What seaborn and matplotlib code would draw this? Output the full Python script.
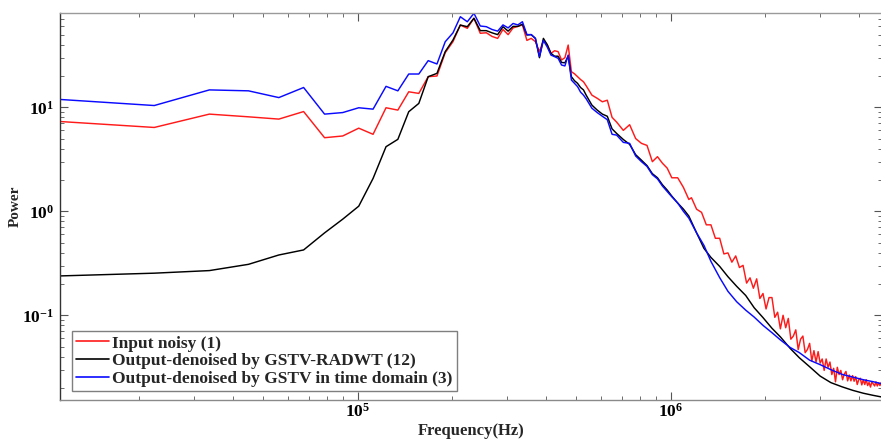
import numpy as np
import pandas as pd
import matplotlib
matplotlib.use("Agg")
import matplotlib.pyplot as plt
import seaborn as sns
from matplotlib.ticker import LogLocator, FuncFormatter, NullFormatter

# ---------------- data (frequency in kHz, power) ----------------
freq_khz = [11.2, 22.4, 33.6, 44.8, 56.0, 67.2, 78.4, 89.6, 100.8, 112.0,
            123.2, 134.4, 145.6, 156.8, 168.0, 179.2, 190.4, 201.6, 212.8, 224.0,
            235.2, 246.4, 257.6, 268.8, 280.0, 291.2, 302.4, 313.6, 324.8, 336.0,
            347.2, 358.4, 369.6, 380.8, 392.0, 403.2, 414.4, 425.6, 436.8, 448.0,
            459.2, 470.4, 481.6, 492.8, 504.0, 515.2, 526.4, 537.6, 560.0, 582.4,
            604.8, 627.2, 649.6, 672.0, 705.6, 739.2, 772.8, 806.4, 840.0, 873.6,
            907.2, 940.8, 974.4, 1008.0, 1052.8, 1097.6, 1142.4]

input_noisy = [7.3, 6.4, 8.6, 8.1, 7.7, 9.1, 5.1, 5.3, 6.3, 5.5,
               9.9, 9.4, 14.1, 13.6, 19.7, 20.0, 33.5, 42.8, 61.8, 57.5,
               71.8, 51.5, 52.1, 48.0, 46.0, 56.0, 50.0, 58.0, 60.0, 62.0,
               44.0, 46.0, 42.8, 34.3, 44.0, 40.0, 33.0, 35.0, 34.3, 28.5,
               30.0, 39.7, 22.0, 21.0, 19.7, 18.5, 17.6, 16.0, 13.1, 12.2,
               11.3, 11.7, 8.0, 7.2, 6.0, 6.8, 5.0, 4.5, 4.3, 3.0,
               3.35, 2.9, 2.6, 2.1, 2.1, 1.7, 1.3]

gstv_radwt = [0.239, 0.254, 0.269, 0.309, 0.380, 0.425, 0.62, 0.84, 1.12, 2.07,
              4.18, 4.92, 9.07, 10.9, 19.7, 21.2, 34.3, 44.4, 61.8, 59.6,
              71.8, 54.6, 54.6, 52.0, 50.0, 59.6, 54.0, 60.0, 60.0, 63.0,
              49.6, 50.0, 46.0, 30.0, 46.0, 40.0, 33.0, 31.0, 31.0, 27.0,
              26.8, 31.0, 19.7, 18.0, 17.0, 15.5, 14.7, 13.0, 10.5, 9.4,
              8.6, 8.2, 6.2, 5.6, 4.9, 4.4, 3.5, 3.1, 2.75, 2.3,
              2.1, 1.8, 1.6, 1.4, 1.2, 1.05, 0.9]

gstv_time = [11.9, 10.4, 14.7, 14.4, 12.4, 15.5, 8.6, 8.9, 9.9, 9.6,
             15.9, 14.4, 20.9, 20.9, 28.1, 26.1, 42.7, 52.0, 74.3, 66.5,
             80.2, 60.5, 59.6, 56.0, 54.0, 62.0, 58.0, 64.0, 62.0, 66.5,
             50.0, 50.0, 46.0, 30.7, 44.0, 38.0, 31.8, 30.7, 29.6, 25.5,
             25.0, 31.8, 18.3, 17.0, 15.8, 14.0, 13.1, 12.0, 9.8, 8.9,
             8.2, 7.6, 5.5, 5.4, 4.6, 4.5, 3.4, 3.0, 2.7, 2.25,
             2.05, 1.75, 1.55, 1.38, 1.2, 1.0, 0.86]

tail_freq_khz = [1209.6, 1276.8, 1344.0, 1433.6, 1523.2, 1624.0, 1736.0, 1848.0,
                 1971.2, 2105.6, 2240.0, 2408.0, 2576.0, 2777.6, 3001.6, 3248.0,
                 3528.0, 3808.0, 4121.6, 4424.0, 4704.0]
gstv_radwt_tail = [0.62, 0.44, 0.36, 0.295, 0.235, 0.19, 0.155, 0.118, 0.095, 0.075,
                   0.062, 0.048, 0.039, 0.032, 0.026, 0.0225, 0.0205, 0.019, 0.0178,
                   0.017, 0.0164]
gstv_time_tail = [0.62, 0.47, 0.33, 0.23, 0.17, 0.135, 0.112, 0.096, 0.080, 0.068,
                  0.058, 0.049, 0.0437, 0.037, 0.0335, 0.030, 0.027, 0.0255, 0.024,
                  0.023, 0.022]

noisy_tail_freq_khz = [1164.8, 1209.6, 1254.4, 1299.2, 1344.0, 1388.8, 1433.6, 1478.4,
                       1523.2, 1568.0, 1612.8, 1657.6, 1702.4, 1747.2, 1792.0, 1836.8,
                       1881.6, 1926.4, 1971.2, 2016.0, 2060.8, 2105.6, 2150.4, 2195.2,
                       2240.0, 2284.8, 2329.6, 2374.4, 2419.2, 2464.0, 2508.8, 2553.6,
                       2598.4, 2643.2, 2688.0, 2732.8, 2777.6, 2822.4, 2867.2, 2912.0,
                       2956.8, 3001.6, 3046.4, 3091.2, 3136.0, 3180.8, 3225.6, 3270.4,
                       3315.2, 3360.0, 3404.8, 3449.6, 3494.4, 3539.2, 3584.0, 3628.8,
                       3673.6, 3718.4, 3763.2, 3808.0, 3852.8, 3897.6, 3942.4, 3987.2,
                       4032.0, 4076.8, 4121.6, 4166.4, 4211.2, 4256.0, 4300.8, 4345.6,
                       4390.4, 4435.2, 4480.0, 4524.8, 4569.6, 4614.4, 4659.2, 4704.0]
input_noisy_tail = [1.349, 1.047, 0.977, 0.741, 0.741, 0.550, 0.550, 0.389, 0.398, 0.324,
                    0.372, 0.288, 0.302, 0.204, 0.229, 0.182, 0.224, 0.145, 0.162, 0.115,
                    0.148, 0.148, 0.0955, 0.107, 0.0741, 0.100, 0.0759, 0.0933, 0.0589, 0.0631,
                    0.0724, 0.0468, 0.0589, 0.0631, 0.0437, 0.0468, 0.0537, 0.0363, 0.0457, 0.0355,
                    0.0447, 0.0347, 0.0380, 0.0295, 0.0380, 0.0316, 0.0355, 0.0269, 0.0309, 0.0229,
                    0.0316, 0.0269, 0.0295, 0.0240, 0.0272, 0.0288, 0.0234, 0.0266, 0.0234, 0.0263,
                    0.0232, 0.0257, 0.0216, 0.0240, 0.0248, 0.0214, 0.0240, 0.0216, 0.0240, 0.0211,
                    0.0226, 0.0204, 0.0229, 0.0219, 0.0209, 0.0229, 0.0209, 0.0224, 0.0211, 0.0226]

series_labels = ["Input noisy (1)",
                 "Output-denoised by GSTV-RADWT (12)",
                 "Output-denoised by GSTV in time domain (3)"]
series_colors = ["#ff1a1a", "#000000", "#0a0aff"]

# ---------------- long-form table ----------------
parts = []
for lab, f, p in [(series_labels[0], freq_khz + noisy_tail_freq_khz, input_noisy + input_noisy_tail),
                  (series_labels[1], freq_khz + tail_freq_khz, gstv_radwt + gstv_radwt_tail),
                  (series_labels[2], freq_khz + tail_freq_khz, gstv_time + gstv_time_tail)]:
    parts.append(pd.DataFrame({"freq": np.array(f) * 1000.0, "power": p, "series": lab}))
df = pd.concat(parts, ignore_index=True)

# ---------------- style ----------------
sns.set_style("ticks")
plt.rcParams["font.family"] = ["Liberation Serif", "DejaVu Serif"]
plt.rcParams["font.weight"] = "bold"
plt.rcParams["mathtext.fontset"] = "custom"
plt.rcParams["mathtext.rm"] = "Liberation Serif:bold"
plt.rcParams["mathtext.bf"] = "Liberation Serif:bold"
plt.rcParams["mathtext.it"] = "Liberation Serif:bold"

fig = plt.figure(figsize=(8.81, 4.41), dpi=100)
ax = fig.add_axes([60 / 881, 1 - 399.5 / 441, 822 / 881, 386.5 / 441])
ax.set_xscale("log")
ax.set_yscale("log")

sns.lineplot(data=df, x="freq", y="power", hue="series", hue_order=series_labels,
             palette=dict(zip(series_labels, series_colors)), estimator=None,
             linewidth=1.05, ax=ax)

ax.set_xlim(11200, 4.73e6)
ax.set_ylim(0.01549, 80.7)

fmt = FuncFormatter(lambda v, pos: r"$\mathbf{10^{%d}}$" % int(round(np.log10(v))))
ax.xaxis.set_major_formatter(fmt)
ax.yaxis.set_major_formatter(fmt)
ax.xaxis.set_minor_formatter(NullFormatter())
ax.yaxis.set_minor_formatter(NullFormatter())
ax.xaxis.set_minor_locator(LogLocator(base=10, subs=np.arange(2, 10), numticks=20))
ax.yaxis.set_minor_locator(LogLocator(base=10, subs=np.arange(2, 10), numticks=20))

ax.tick_params(which="both", direction="in", top=True, right=True, colors="#555555",
               labelcolor="black")
ax.tick_params(which="major", length=6, width=0.8, labelsize=12.5)
ax.tick_params(which="minor", length=3, width=0.6)
ax.tick_params(axis="x", which="major", pad=2.5)
ax.tick_params(axis="y", which="major", pad=4.5)

for side, col in [("left", "#333333"), ("bottom", "#8a8a8a"), ("top", "#9a9a9a"), ("right", "#9a9a9a")]:
    ax.spines[side].set_visible(True)
    ax.spines[side].set_color(col)
    ax.spines[side].set_linewidth(1.0)

ax.set_xlabel("Frequency(Hz)", fontsize=12, fontweight="bold")
ax.set_ylabel("Power", fontsize=11, fontweight="bold")
ax.xaxis.set_label_coords(0.5, -0.062)
ax.yaxis.set_label_coords(-0.047, 0.5)

old = ax.get_legend()
handles = old.legend_handles
labels = [t.get_text() for t in old.get_texts()]
leg = ax.legend(handles, labels, loc="lower left", bbox_to_anchor=(0.0142, 0.022),
                borderaxespad=0, fontsize=12.5, frameon=True, fancybox=False,
                edgecolor="#7f7f7f", framealpha=1, handlelength=1.9,
                handletextpad=0.2, labelspacing=0.08, borderpad=0.25)
leg.get_frame().set_linewidth(1.0)
for h in leg.legend_handles:
    h.set_linewidth(1.2)

fig.savefig("out.png", dpi=100)
